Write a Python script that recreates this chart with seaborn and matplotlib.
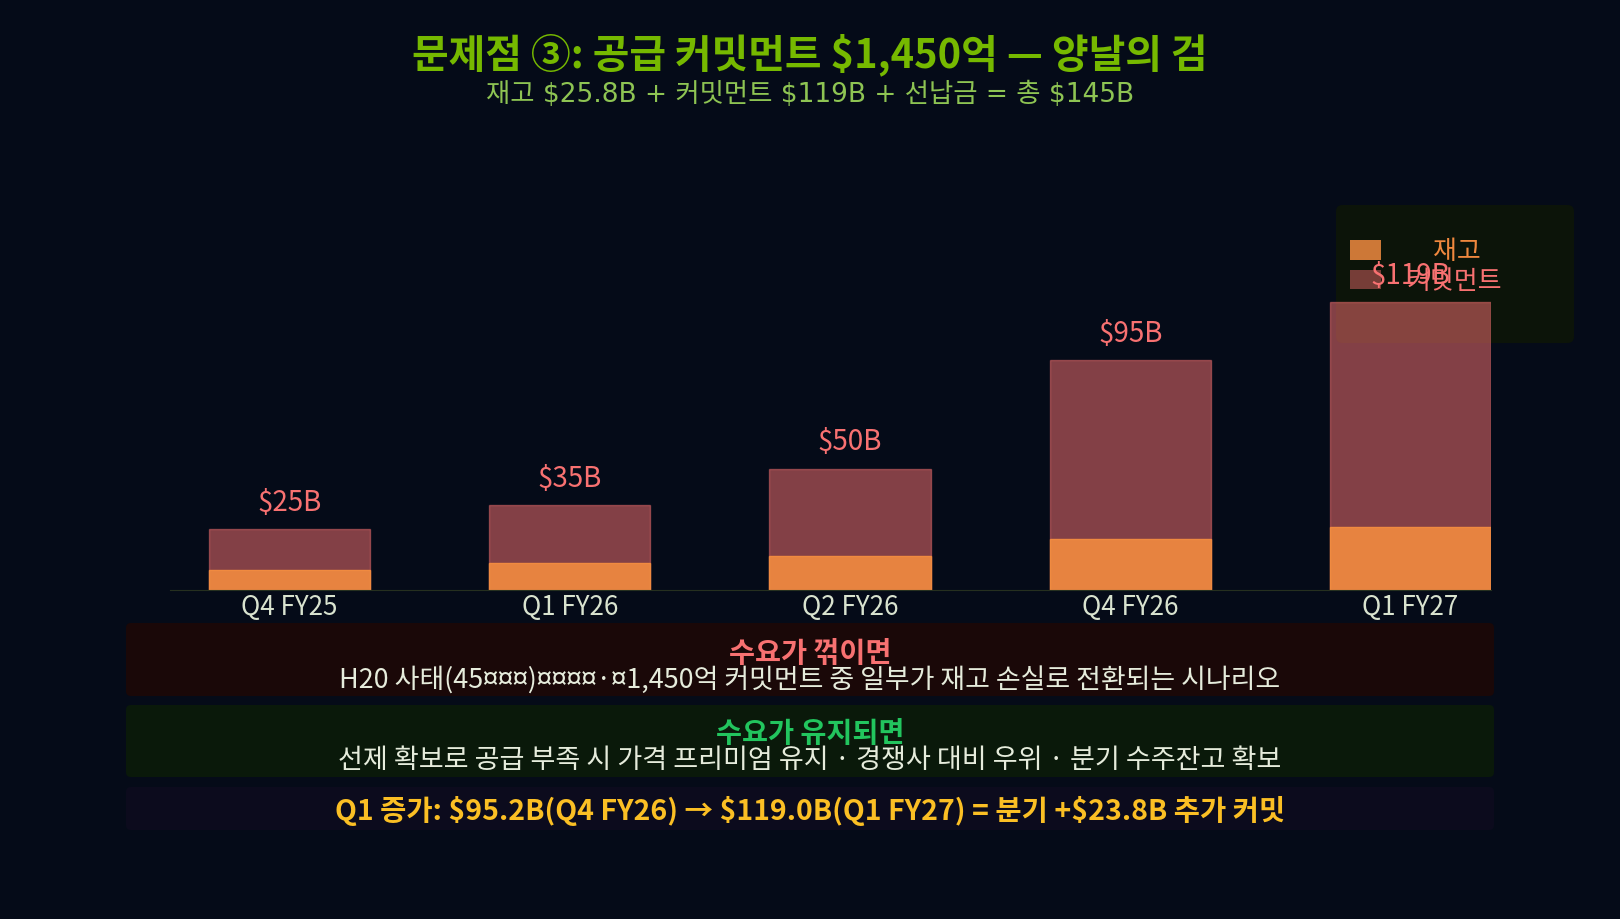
import matplotlib
matplotlib.use("Agg")
import matplotlib.pyplot as plt
from matplotlib.patches import FancyBboxPatch, Patch
from matplotlib.colors import to_rgba
import pandas as pd
import seaborn as sns

# data ($B)
quarters = ["Q4 FY25", "Q1 FY26", "Q2 FY26", "Q4 FY26", "Q1 FY27"]
commitments = [25, 35, 50, 95, 119]
inventory = [8, 11, 14, 21, 25.8]
value_labels = ["$25B", "$35B", "$50B", "$95B", "$119B"]
legend_labels = ["\u3000재고", "커밋먼트"]

title = "문제점 ③: 공급 커밋먼트 $1,450억 — 양날의 검"
subtitle = "재고 $25.8B + 커밋먼트 $119B + 선납금 = 총 $145B"
bad_head = "수요가 꺾이면"
bad_body = "H20 사태(45¤¤¤)¤¤¤¤·¤1,450억 커밋먼트 중 일부가 재고 손실로 전환되는 시나리오"
good_head = "수요가 유지되면"
good_body = "선제 확보로 공급 부족 시 가격 프리미엄 유지 · 경쟁사 대비 우위 · 분기 수주잔고 확보"
footer = "Q1 증가: $95.2B(Q4 FY26) → $119.0B(Q1 FY27) = 분기 +$23.8B 추가 커밋"

BG = "#050b18"
RED = "#f87171"
ORANGE = "#f08a40"
NV_GREEN = "#76b900"
CJK = ["Noto Sans CJK KR", "DejaVu Sans"]

W, H = 1620, 919


def fx(px):
    return px / W


def fy(py):
    return 1 - py / H


sns.set_theme(style="white")
plt.rcParams["font.family"] = CJK

fig = plt.figure(figsize=(W / 100, H / 100), dpi=100, facecolor=BG)
ax = fig.add_axes([fx(170), fy(589.5), fx(1491) - fx(170), (589.5 - 202.5) / H])
ax.set_facecolor("none")

df = pd.DataFrame({"quarter": quarters, "commit": commitments, "inv": inventory})

# commitments drawn full height, inventory laid over the bottom
sns.barplot(data=df, x="quarter", y="commit", color=RED, width=0.575,
            saturation=1, errorbar=None, ax=ax)
sns.barplot(data=df, x="quarter", y="inv", color=ORANGE, width=0.575,
            saturation=1, errorbar=None, ax=ax)

for bar in ax.containers[0]:
    bar.set_facecolor(to_rgba(RED, 0.52))
    bar.set_edgecolor(to_rgba(RED, 0.45))
    bar.set_linewidth(1)
for bar in ax.containers[1]:
    bar.set_facecolor(to_rgba(ORANGE, 0.92))
    bar.set_edgecolor(to_rgba(ORANGE, 1))
    bar.set_linewidth(1)

ax.bar_label(ax.containers[0], labels=value_labels, padding=8, color=RED,
             fontsize=20)

ax.set_xlim(-0.426, 4.287)
ax.set_ylim(0, 160)
ax.set_xlabel("")
ax.set_ylabel("")
ax.set_yticks([])
ax.tick_params(axis="x", length=0, pad=3, labelsize=18.7, labelcolor="#d9e3cf")
for side in ["left", "right", "top"]:
    ax.spines[side].set_visible(False)
ax.spines["bottom"].set_color("#26301f")
ax.spines["bottom"].set_linewidth(0.8)
ax.grid(False)

# legend
fig.patches.append(FancyBboxPatch(
    (fx(1336), fy(343)), fx(1574) - fx(1336), (343 - 205) / H,
    boxstyle="round,pad=0,rounding_size=0.004", mutation_aspect=W / H,
    transform=fig.transFigure, facecolor="#0c1409", edgecolor="none",
    zorder=-1))
handles = [Patch(facecolor=to_rgba(ORANGE, 0.85), edgecolor="none"),
           Patch(facecolor=to_rgba(RED, 0.45), edgecolor="none")]
leg = fig.legend(handles, legend_labels, loc="upper left",
                 bbox_to_anchor=(fx(1350), fy(238)), frameon=False,
                 fontsize=18.7, handlelength=1.19, handleheight=0.77,
                 handletextpad=1.0, labelspacing=0.1, borderpad=0,
                 borderaxespad=0)
for txt, col in zip(leg.get_texts(), ["#f0883e", RED]):
    txt.set_color(col)

# scenario boxes
boxes = [(623, 696, "#1a0808"), (705, 777, "#0a190a"), (787, 830, "#0c0b1d")]
for top, bottom, col in boxes:
    fig.patches.append(FancyBboxPatch(
        (fx(126), fy(bottom)), fx(1494) - fx(126), (bottom - top) / H,
        boxstyle="round,pad=0,rounding_size=0.003", mutation_aspect=W / H,
        transform=fig.transFigure, facecolor=col, edgecolor="none", zorder=-1))

fig.text(0.5, fy(55), title, ha="center", va="center", fontsize=28.7,
         fontweight="bold", color=NV_GREEN)
fig.text(0.5, fy(95), subtitle, ha="center", va="center", fontsize=19,
         color="#8ec453", family=["DejaVu Sans", "Noto Sans CJK KR"])

fig.text(0.5, fy(654), bad_head, ha="center", va="center", fontsize=20.4,
         fontweight="bold", color=RED)
fig.text(0.5, fy(680), bad_body, ha="center", va="center", fontsize=19.4,
         color="#e6ecdc")
fig.text(0.5, fy(734), good_head, ha="center", va="center", fontsize=20.4,
         fontweight="bold", color="#22c55e")
fig.text(0.5, fy(761), good_body, ha="center", va="center", fontsize=19.5,
         color="#e6ecdc")
fig.text(0.5, fy(811), footer, ha="center", va="center", fontsize=20.5,
         fontweight="bold", color="#fbbf24")

fig.savefig("out.png", dpi=100, facecolor=BG)
